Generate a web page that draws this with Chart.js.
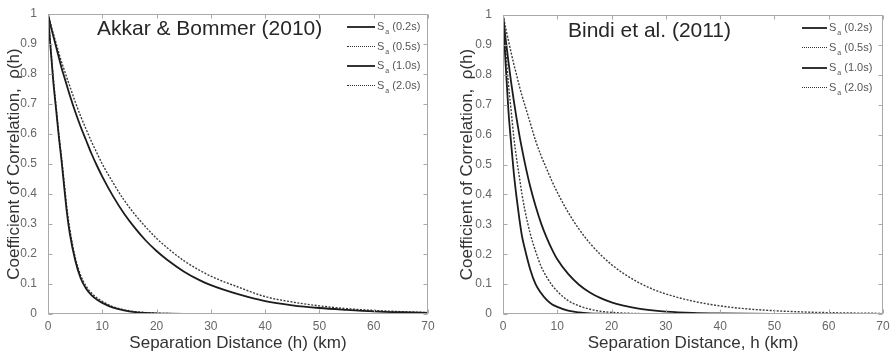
<!DOCTYPE html>
<html>
<head>
<meta charset="utf-8">
<script src="https://cdn.jsdelivr.net/npm/chart.js@4.4.1/dist/chart.umd.min.js"></script>
<style>
  html, body { margin: 0; padding: 0; background: #fff; }
  #wrap { position: relative; width: 896px; height: 356px; overflow: hidden; background: #fff; }
  .pane { position: absolute; top: 0; width: 448px; height: 356px; }
  .ttl { position: absolute; font: 21px "Liberation Sans", Arial, sans-serif; color: #262626; white-space: nowrap; line-height: 24px; }
  .leg { position: absolute; font: 11px "Liberation Sans", Arial, sans-serif; color: #555; white-space: nowrap; line-height: 12px; }
  .leg sub { font-size: 7px; position: relative; top: 4px; vertical-align: baseline; margin: 0 3px 0 1px; }
  .smp { position: absolute; height: 0; }
  .smp.solid { border-top: 2px solid #333; }
  .smp.dot { border-top: 1px dotted #333; }
</style>
</head>
<body>
<div id="wrap">
  <div class="pane" style="left:0"><canvas id="akkar" width="448" height="356"></canvas></div>
  <div class="pane" style="left:448px"><canvas id="bindi" width="448" height="356"></canvas></div>
  <div class="ttl" style="left:97px;top:16px">Akkar &amp; Bommer (2010)</div>
  <div class="ttl" style="left:568px;top:18px">Bindi et al. (2011)</div>
  <div id="legends"></div>
</div>
<script>
// ══ DATA ═════════════════════════════════════════════════════════
const distanceKm = [0, 0.5, 1, 1.5, 2, 2.5, 3, 3.5, 4, 5, 6, 7, 8, 9, 10, 12, 14, 16, 18, 20, 22, 25, 28, 30, 35, 40, 45, 50, 55, 60, 65, 70];

// Akkar & Bommer (2010)
const akkarSa02 = [1, 0.88, 0.77, 0.68, 0.59, 0.51, 0.42, 0.335, 0.27, 0.18, 0.12, 0.085, 0.063, 0.048, 0.037, 0.021, 0.012, 0.0065, 0.0037, 0.0021, 0.0012, 0.0005, 0.0002, 0.0001, 0, 0, 0, 0, 0, 0, 0, 0];
const akkarSa05 = [1, 0.89, 0.78, 0.69, 0.6, 0.52, 0.435, 0.35, 0.285, 0.19, 0.13, 0.093, 0.07, 0.054, 0.042, 0.024, 0.014, 0.008, 0.0047, 0.0028, 0.0016, 0.0008, 0.0004, 0.0002, 0.0001, 0, 0, 0, 0, 0, 0, 0];
const akkarSa10 = [1, 0.96, 0.925, 0.89, 0.855, 0.82, 0.79, 0.76, 0.73, 0.675, 0.625, 0.58, 0.535, 0.495, 0.458, 0.392, 0.335, 0.287, 0.245, 0.21, 0.18, 0.142, 0.112, 0.096, 0.066, 0.043, 0.029, 0.02, 0.014, 0.009, 0.006, 0.004];
const akkarSa20 = [1, 0.966, 0.933, 0.902, 0.87, 0.84, 0.813, 0.786, 0.76, 0.708, 0.66, 0.617, 0.575, 0.537, 0.5, 0.437, 0.38, 0.332, 0.29, 0.252, 0.22, 0.178, 0.145, 0.126, 0.09, 0.058, 0.04, 0.027, 0.018, 0.012, 0.008, 0.005];

// Bindi et al. (2011)
const bindiSa02 = [1, 0.83, 0.68, 0.57, 0.47, 0.39, 0.32, 0.26, 0.22, 0.15, 0.1, 0.07, 0.048, 0.033, 0.024, 0.011, 0.005, 0.002, 0.001, 0.0005, 0.0002, 0.0001, 0, 0, 0, 0, 0, 0, 0, 0, 0, 0];
const bindiSa05 = [1, 0.88, 0.77, 0.68, 0.59, 0.52, 0.46, 0.4, 0.35, 0.27, 0.21, 0.16, 0.125, 0.097, 0.076, 0.045, 0.027, 0.016, 0.009, 0.0055, 0.0033, 0.0015, 0.0007, 0.0004, 0.0001, 0, 0, 0, 0, 0, 0, 0];
const bindiSa10 = [1, 0.918, 0.844, 0.775, 0.712, 0.654, 0.6, 0.552, 0.507, 0.427, 0.361, 0.304, 0.257, 0.217, 0.183, 0.134, 0.098, 0.072, 0.053, 0.039, 0.029, 0.018, 0.011, 0.008, 0.0037, 0.0017, 0.0008, 0.0004, 0.0002, 0.0001, 0, 0];
const bindiSa20 = [1, 0.956, 0.914, 0.874, 0.835, 0.8, 0.763, 0.73, 0.7, 0.64, 0.58, 0.53, 0.487, 0.445, 0.407, 0.34, 0.284, 0.237, 0.198, 0.165, 0.138, 0.105, 0.08, 0.067, 0.043, 0.027, 0.017, 0.011, 0.007, 0.0045, 0.003, 0.002];

const periods = ['0.2s', '0.5s', '1.0s', '2.0s'];
const dottedPeriod = [false, true, false, true];
const xTickValues = [0, 10, 20, 30, 40, 50, 60, 70];
const yTickValues = [0, 0.1, 0.2, 0.3, 0.4, 0.5, 0.6, 0.7, 0.8, 0.9, 1];

// ══ STYLE ════════════════════════════════════════════════════════
const FONT = '"Liberation Sans", Arial, sans-serif';

// MATLAB-ish box with inward tick marks on all four sides
const boxPlugin = {
  id: 'matlabBox',
  afterDatasetsDraw(chart) {
    const { ctx, chartArea: a, scales: { x, y } } = chart;
    const L = Math.round(a.left) + 0.5, R = Math.round(a.right) - 0.5;
    const T = Math.round(a.top) + 0.5, B = Math.round(a.bottom) - 0.5;
    ctx.save();
    ctx.strokeStyle = '#a9a9a9';
    ctx.lineWidth = 1;
    ctx.beginPath();
    x.ticks.forEach(t => {
      const px = Math.round(x.getPixelForValue(t.value)) + 0.5;
      ctx.moveTo(px, B); ctx.lineTo(px, B - 4);
      ctx.moveTo(px, T); ctx.lineTo(px, T + 4);
    });
    y.ticks.forEach(t => {
      const py = Math.round(y.getPixelForValue(t.value)) + 0.5;
      ctx.moveTo(L, py); ctx.lineTo(L + 4, py);
      ctx.moveTo(R, py); ctx.lineTo(R - 4, py);
    });
    ctx.stroke();
    ctx.strokeRect(L, T, R - L, B - T);
    ctx.restore();
  }
};

function makeChart(id, seriesList, xTitle, pad, yWidth) {
  return new Chart(document.getElementById(id), {
    type: 'line',
    data: {
      datasets: seriesList.map((vals, k) => ({
        label: 'Sa (' + periods[k] + ')',
        data: distanceKm.map((h, i) => ({ x: h, y: vals[i] })),
        borderColor: dottedPeriod[k] ? '#3c3c3c' : '#1c1c1c',
        borderWidth: dottedPeriod[k] ? 1.4 : 1.8,
        borderDash: dottedPeriod[k] ? [2, 1.5] : [],
        pointRadius: 0,
        cubicInterpolationMode: 'monotone',
        fill: false,
      }))
    },
    options: {
      responsive: false, animation: false,
      layout: { padding: pad },
      plugins: { legend: { display: false }, tooltip: { enabled: false } },
      scales: {
        x: {
          type: 'linear', min: 0, max: 70,
          afterBuildTicks: s => { s.ticks = xTickValues.map(v => ({ value: v })); },
          afterFit: s => { s.height = 42; },
          grid: { display: false }, border: { display: false },
          ticks: { padding: -3, color: '#666', font: { family: FONT, size: 12 }, maxRotation: 0, autoSkip: false, callback: v => String(v) },
          title: { display: true, text: xTitle, color: '#333', font: { family: FONT, size: 17 }, padding: { top: 0, bottom: 2 } },
        },
        y: {
          type: 'linear', min: 0, max: 1,
          afterBuildTicks: s => { s.ticks = yTickValues.map(v => ({ value: v })); },
          afterFit: s => { s.width = yWidth; },
          grid: { display: false }, border: { display: false },
          ticks: { padding: 3, color: '#666', font: { family: FONT, size: 12 }, autoSkip: false, callback: v => String(v) },
          title: { display: true, text: 'Coefficient of Correlation,  \u03C1(h)', color: '#333', font: { family: FONT, size: 17 }, padding: { top: 4, bottom: 0 } },
        }
      }
    },
    plugins: [boxPlugin]
  });
}

makeChart('akkar', [akkarSa02, akkarSa05, akkarSa10, akkarSa20], 'Separation Distance (h) (km)', { left: 0, right: 20, top: 14, bottom: 0 }, 48);
makeChart('bindi', [bindiSa02, bindiSa05, bindiSa10, bindiSa20], 'Separation Distance, h (km)', { left: 5, right: 13, top: 15, bottom: 0 }, 50);

// ══ LEGENDS (subscript needs HTML) ═══════════════════════════════
function addLegend(lineLeft, lineRight, textLeft, firstRow, rowGap) {
  const host = document.getElementById('legends');
  periods.forEach((p, i) => {
    const cy = firstRow + i * rowGap;
    const smp = document.createElement('div');
    smp.className = 'smp ' + (dottedPeriod[i] ? 'dot' : 'solid');
    smp.style.left = lineLeft + 'px';
    smp.style.width = (lineRight - lineLeft) + 'px';
    smp.style.top = (cy - 1) + 'px';
    host.appendChild(smp);
    const t = document.createElement('div');
    t.className = 'leg';
    t.style.left = textLeft + 'px';
    t.style.top = (cy - 7) + 'px';
    t.innerHTML = 'S<sub>a</sub>(' + p + ')';
    host.appendChild(t);
  });
}
addLegend(347, 375, 377, 27, 19.7);
addLegend(802, 827, 829, 28, 20);
</script>
</body>
</html>
